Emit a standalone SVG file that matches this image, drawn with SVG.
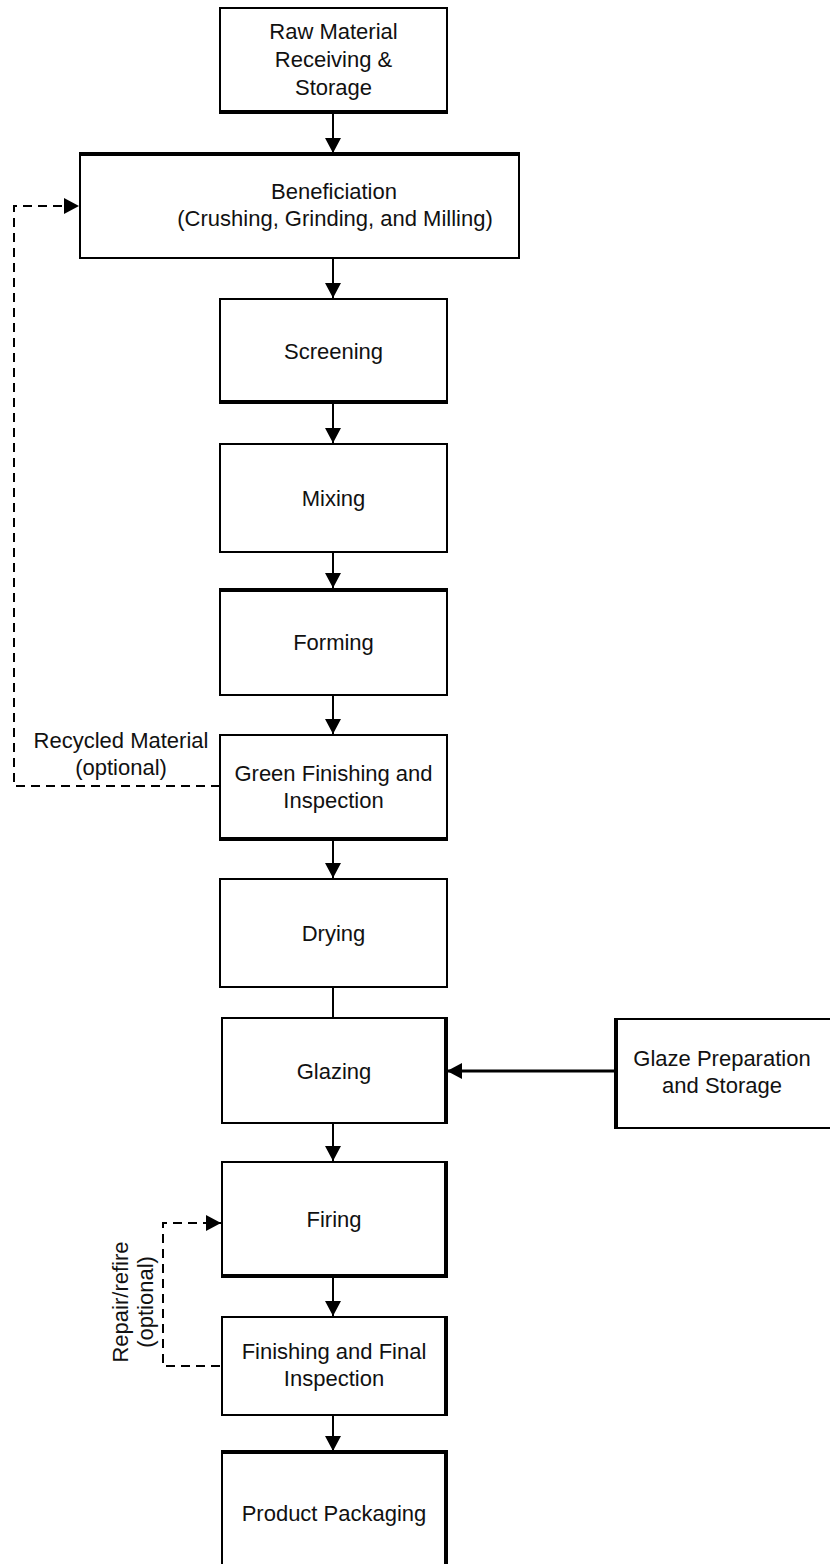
<svg xmlns="http://www.w3.org/2000/svg" width="830" height="1564" viewBox="0 0 830 1564">
<style>
.box{fill:#fff;stroke:#000;stroke-width:2}
.thick{stroke:#000;stroke-width:4;fill:none}
.t{font-family:"Liberation Sans",Arial,sans-serif;font-size:22px;fill:#111;text-anchor:middle}
.ln{stroke:#000;stroke-width:2;fill:none}
.dash{stroke:#000;stroke-width:2;fill:none;stroke-dasharray:9,6}
</style>
<defs>
<marker id="ah" viewBox="0 0 15 16" refX="15" refY="8" markerWidth="15" markerHeight="16" markerUnits="userSpaceOnUse" orient="auto">
<path d="M0,0 L15,8 L0,16 Z" fill="#000"/>
</marker>
</defs>
<rect width="830" height="1564" fill="#fff"/>

<g id="connectors">
<line class="ln" x1="333" y1="113" x2="333" y2="153" marker-end="url(#ah)"/>
<line class="ln" x1="333" y1="258" x2="333" y2="298" marker-end="url(#ah)"/>
<line class="ln" x1="333" y1="403" x2="333" y2="443" marker-end="url(#ah)"/>
<line class="ln" x1="333" y1="552" x2="333" y2="588" marker-end="url(#ah)"/>
<line class="ln" x1="333" y1="695" x2="333" y2="734" marker-end="url(#ah)"/>
<line class="ln" x1="333" y1="840" x2="333" y2="878" marker-end="url(#ah)"/>
<line class="ln" x1="333" y1="987" x2="333" y2="1018"/>
<line class="ln" x1="333" y1="1123" x2="333" y2="1161" marker-end="url(#ah)"/>
<line class="ln" x1="333" y1="1277" x2="333" y2="1316" marker-end="url(#ah)"/>
<line class="ln" x1="333" y1="1415" x2="333" y2="1451" marker-end="url(#ah)"/>
<line x1="615" y1="1071" x2="447" y2="1071" stroke="#000" stroke-width="3" marker-end="url(#ah)"/>
<polyline class="dash" points="220,786 14,786 14,206 79,206" marker-end="url(#ah)"/>
<polyline class="dash" points="220,1366 163,1366 163,1223 221,1223" marker-end="url(#ah)"/>
</g>

<g id="n1">
<rect class="box" x="220" y="8" width="227" height="105"/>
<line class="thick" x1="219" y1="112" x2="448" y2="112"/>
<text class="t" x="333.5" y="39">Raw Material</text>
<text class="t" x="333.5" y="67">Receiving &amp;</text>
<text class="t" x="333.5" y="95">Storage</text>
</g>

<g id="n2">
<rect class="box" x="80" y="154" width="439" height="104"/>
<line class="thick" x1="79" y1="154" x2="520" y2="154"/>
<text class="t" x="334" y="199">Beneficiation</text>
<text class="t" x="335" y="226">(Crushing, Grinding, and Milling)</text>
</g>

<g id="n3">
<rect class="box" x="220" y="299" width="227" height="104"/>
<line class="thick" x1="219" y1="402" x2="448" y2="402"/>
<text class="t" x="333.5" y="359">Screening</text>
</g>

<g id="n4">
<rect class="box" x="220" y="444" width="227" height="108"/>
<text class="t" x="333.5" y="506">Mixing</text>
</g>

<g id="n5">
<rect class="box" x="220" y="589" width="227" height="106"/>
<line class="thick" x1="219" y1="590" x2="448" y2="590"/>
<text class="t" x="333.5" y="650">Forming</text>
</g>

<g id="n6">
<rect class="box" x="220" y="735" width="227" height="105"/>
<line class="thick" x1="219" y1="839" x2="448" y2="839"/>
<text class="t" x="333.5" y="781">Green Finishing and</text>
<text class="t" x="333.5" y="808">Inspection</text>
</g>
<text class="t" x="121" y="748">Recycled Material</text>
<text class="t" x="121" y="775">(optional)</text>

<g id="n7">
<rect class="box" x="220" y="879" width="227" height="108"/>
<text class="t" x="333.5" y="941">Drying</text>
</g>

<g id="n8">
<rect class="box" x="222" y="1018" width="225" height="105"/>
<line class="thick" x1="446" y1="1017" x2="446" y2="1124"/>
<text class="t" x="334" y="1079">Glazing</text>
</g>

<g id="n9">
<rect class="box" x="615" y="1019" width="216" height="109"/>
<line class="thick" x1="616" y1="1018" x2="616" y2="1129"/>
<text class="t" x="722" y="1066">Glaze Preparation</text>
<text class="t" x="722" y="1093">and Storage</text>
</g>

<g id="n10">
<rect class="box" x="222" y="1162" width="225" height="115"/>
<line class="thick" x1="221" y1="1276" x2="448" y2="1276"/>
<line class="thick" x1="446" y1="1161" x2="446" y2="1278"/>
<text class="t" x="334" y="1227">Firing</text>
</g>

<g id="n11">
<rect class="box" x="222" y="1317" width="225" height="98"/>
<line class="thick" x1="446" y1="1316" x2="446" y2="1416"/>
<text class="t" x="334" y="1359">Finishing and Final</text>
<text class="t" x="334" y="1386">Inspection</text>
</g>
<text class="t" transform="translate(128,1302) rotate(-90)">Repair/refire</text>
<text class="t" transform="translate(153,1302) rotate(-90)">(optional)</text>

<g id="n12">
<rect class="box" x="222" y="1452" width="225" height="130"/>
<line class="thick" x1="221" y1="1452" x2="448" y2="1452"/>
<line class="thick" x1="446" y1="1451" x2="446" y2="1570"/>
<text class="t" x="334" y="1521">Product Packaging</text>
</g>
</svg>
